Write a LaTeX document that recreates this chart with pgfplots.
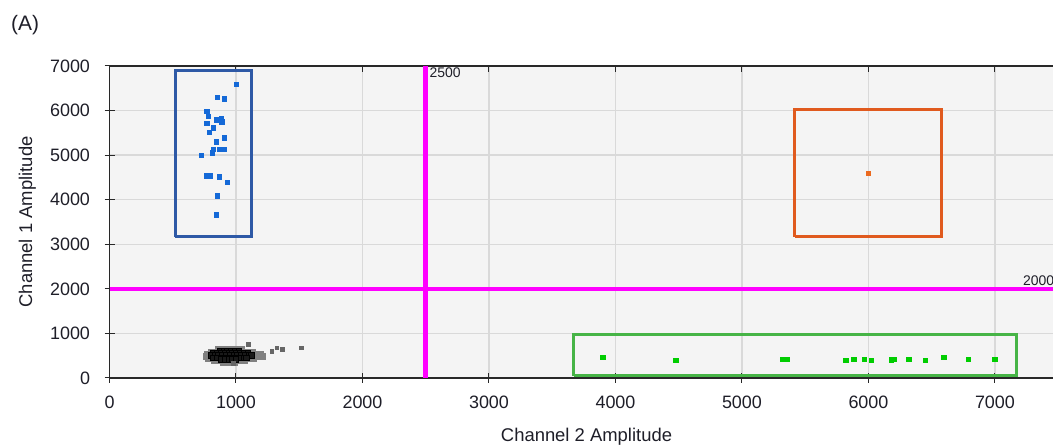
\documentclass[border=0pt]{standalone}
\usepackage{pgfplots}
\pgfplotsset{compat=1.18}
\usepackage{fontspec}
\setmainfont{Liberation Sans}
\definecolor{bggray}{RGB}{244,244,244}
\definecolor{gridgray}{RGB}{217,217,217}
\definecolor{magline}{RGB}{255,0,255}
\definecolor{boxblue}{RGB}{46,89,166}
\definecolor{ptblue}{RGB}{20,105,215}
\definecolor{boxorange}{RGB}{224,90,30}
\definecolor{ptorange}{RGB}{235,105,30}
\definecolor{boxgreen}{RGB}{70,180,70}
\definecolor{ptgreen}{RGB}{0,205,0}
\definecolor{axgray}{RGB}{40,40,40}
\definecolor{txt}{RGB}{30,30,40}

\pgfplotstableread{
x y
1002 6596
852 6298
908 6260
768 5990
781 5871
842 5789
884 5826
887 5744
768 5721
821 5616
789 5512
908 5385
844 5295
821 5131
866 5131
908 5131
813 5055
726 4996
765 4539
794 4539
866 4510
929 4390
852 4084
844 3664
}\bluepts

\pgfplotstableread{
x y
3901 471
4476 397
5322 426
5353 426
5820 397
5883 426
5967 426
6022 397
6180 411
6199 426
6320 426
6449 397
6597 471
6789 426
7000 426
}\greenpts

\pgfplotstableread{
x y
860 640
890 640
920 640
950 640
980 640
1010 640
1040 640
800 590
830 590
860 590
890 590
920 590
950 590
980 590
1010 590
1040 590
1070 590
1100 590
1130 590
770 540
800 540
830 540
860 540
890 540
920 540
950 540
980 540
1010 540
1040 540
1070 540
1100 540
1130 540
1160 540
1190 540
760 490
790 490
820 490
850 490
880 490
910 490
940 490
970 490
1000 490
1030 490
1060 490
1090 490
1120 490
1150 490
1180 490
1210 490
780 440
810 440
840 440
870 440
900 440
930 440
960 440
990 440
1020 440
1050 440
1080 440
1110 440
1140 440
830 390
860 390
890 390
920 390
950 390
980 390
1010 390
1040 390
1070 390
900 350
930 350
960 350
990 350
}\blackpts

\pgfplotstableread{
x y
870 610
900 610
930 610
960 610
990 610
1020 610
820 560
850 560
880 560
910 560
940 560
970 560
1000 560
1030 560
1060 560
1090 560
800 510
830 510
860 510
890 510
920 510
950 510
980 510
1010 510
1040 510
1070 510
1100 510
1120 510
820 460
850 460
880 460
910 460
940 460
970 460
1000 460
1030 460
1060 460
1080 460
880 420
910 420
940 420
970 420
1000 420
}\corepts

\pgfplotstableread{
x y
1097 763
1282 606
1322 680
1366 651
1514 680
979 330
}\graypts

\begin{document}
\begin{tikzpicture}[x=1bp,y=1bp]
\useasboundingbox (0,0) rectangle (1053,448);
\begin{axis}[
  at={(109.5bp,70bp)}, anchor=south west,
  scale only axis, width=943.5bp, height=312bp,
  xmin=0, xmax=7459, ymin=0, ymax=7000,
  axis lines*=left,
  axis line style={axgray, line width=1.2bp},
  xtick={0,1000,2000,3000,4000,5000,6000,7000},
  ytick={0,1000,2000,3000,4000,5000,6000,7000},
  scaled ticks=false,
  /pgf/number format/1000 sep={},
  /pgf/number format/assume math mode=true,
  tick label style={font=\fontsize{18}{20}\selectfont, text=txt},
  major tick length=10bp,
  tick align=center,
  tick style={axgray, line width=1bp},
  grid=major,
  major grid style={gridgray, line width=1.3bp},
  axis background/.style={fill=bggray},
  xticklabel style={yshift=-9bp},
  yticklabel style={xshift=-11bp},
  clip=false,
]
% top frame line and top ticks
\draw[axgray, line width=1.2bp] (axis cs:0,7000) -- (axis cs:7459,7000);
\pgfplotsinvokeforeach{1000,2000,3000,4000,5000,6000,7000}{
  \draw[axgray, line width=1bp] (axis cs:#1,7000) -- ++(0,-6bp);
}
% threshold lines
\addplot[magline, line width=4.5bp] coordinates {(2500,0) (2500,7000)};
\addplot[magline, line width=4.5bp] coordinates {(0,2000) (7459,2000)};
\node[anchor=north west, inner sep=0, font=\fontsize{14}{16}\selectfont, text=txt] at (axis cs:2530,6970) {2500};
\node[anchor=south west, inner sep=0, font=\fontsize{14}{16}\selectfont, text=txt] at (axis cs:7221,2060) {2000};
% gates
\addplot[draw=boxblue, line width=3bp, no marks] coordinates {(518,3164) (1126,3164) (1126,6888) (518,6888) (518,3164)};
\addplot[draw=boxorange, line width=3bp, no marks] coordinates {(5419,3164) (6581,3164) (6581,6035) (5419,6035) (5419,3164)};
\addplot[draw=boxgreen, line width=3bp, no marks] coordinates {(3672,45) (7174,45) (7174,987) (3672,987) (3672,45)};
% droplets
\addplot[only marks, color=black!50, mark=square*, mark size=2.8bp, mark options={draw=none, fill=black!50}] table {\blackpts};
\addplot[only marks, color=black, mark=square*, mark size=2.6bp, mark options={draw=none, fill=black!90}] table {\corepts};
\addplot[only marks, color=black!60, mark=square*, mark size=1.8bp, mark options={draw=none, fill=black!60}] table {\graypts};
\addplot[only marks, color=ptblue, mark=square*, mark size=2.3bp, mark options={draw=none, fill=ptblue}] table {\bluepts};
\addplot[only marks, color=ptgreen, mark=square*, mark size=2.3bp, mark options={draw=none, fill=ptgreen}] table {\greenpts};
\addplot[only marks, color=ptorange, mark=square*, mark size=1.8bp, mark options={draw=none, fill=ptorange}] coordinates {(5999,4600)};
\end{axis}
\node[anchor=base west, inner sep=0, font=\fontsize{21}{24}\selectfont, text=txt] at (11,417) {(A)};
\node[anchor=base, inner sep=0, font=\fontsize{18.5}{22}\selectfont, text=txt] at (586.5,6.3) {Channel 2 Amplitude};
\node[anchor=base, rotate=90, inner sep=0, font=\fontsize{18.5}{22}\selectfont, text=txt] at (32,226) {Channel 1 Amplitude};
\end{tikzpicture}
\end{document}
